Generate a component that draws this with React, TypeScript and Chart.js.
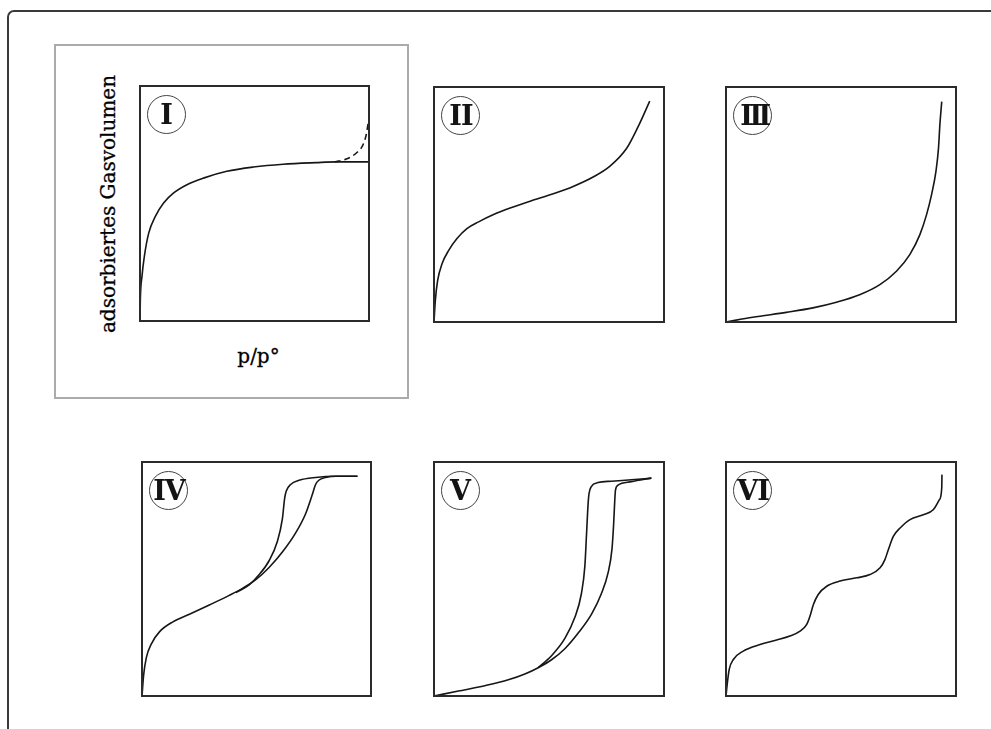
import React, { useEffect, useRef } from "react";
import { Chart, registerables } from "chart.js";

Chart.register(...registerables);

type Pt = [number, number];

// ---- Data (normalised p/p° on x, adsorbed volume on y) ----
const typeI: Pt[] = [
  [0, 0], [0.0015, 0.091], [0.0087, 0.19], [0.019, 0.275], [0.038, 0.374],
  [0.067, 0.445], [0.103, 0.502], [0.147, 0.545], [0.205, 0.58], [0.277, 0.608],
  [0.379, 0.637], [0.495, 0.655], [0.625, 0.667], [0.77, 0.674], [0.857, 0.677], [1.0, 0.677],
];
const typeIDashed: Pt[] = [
  [0.85, 0.677], [0.901, 0.689], [0.945, 0.715], [0.974, 0.75], [0.988, 0.793], [0.996, 0.84],
];
const typeII: Pt[] = [
  [0, 0], [0.0058, 0.092], [0.0159, 0.177], [0.035, 0.248], [0.064, 0.305],
  [0.1, 0.355], [0.143, 0.397], [0.194, 0.426], [0.259, 0.457], [0.331, 0.485],
  [0.418, 0.514], [0.519, 0.546], [0.605, 0.577], [0.692, 0.617], [0.764, 0.662],
  [0.837, 0.738], [0.887, 0.83], [0.938, 0.94],
];
const typeIII: Pt[] = [
  [0, 0], [0.116, 0.02], [0.262, 0.041], [0.378, 0.06], [0.48, 0.084],
  [0.581, 0.116], [0.669, 0.159], [0.741, 0.216], [0.799, 0.287], [0.843, 0.372],
  [0.872, 0.457], [0.894, 0.543], [0.913, 0.642], [0.924, 0.741], [0.93, 0.841], [0.938, 0.938],
];
const typeIVAds: Pt[] = [
  [0, 0], [0.0072, 0.09], [0.019, 0.164], [0.041, 0.223], [0.077, 0.275],
  [0.135, 0.317], [0.207, 0.349], [0.294, 0.389], [0.381, 0.43], [0.439, 0.46],
  [0.497, 0.497], [0.555, 0.549], [0.613, 0.615], [0.671, 0.697], [0.714, 0.778],
  [0.743, 0.859], [0.758, 0.904], [0.772, 0.922], [0.801, 0.934], [0.846, 0.939], [0.941, 0.939],
];
const typeIVDes: Pt[] = [
  [0.41, 0.442], [0.468, 0.475], [0.512, 0.519], [0.555, 0.578], [0.591, 0.66],
  [0.613, 0.757], [0.623, 0.846], [0.63, 0.876], [0.649, 0.904], [0.686, 0.922],
  [0.758, 0.934], [0.846, 0.939], [0.941, 0.939],
];
const typeVAds: Pt[] = [
  [0, 0], [0.106, 0.021], [0.221, 0.044], [0.323, 0.069], [0.395, 0.094], [0.453, 0.121],
  [0.511, 0.155], [0.569, 0.202], [0.627, 0.269], [0.685, 0.35], [0.728, 0.438],
  [0.757, 0.527], [0.774, 0.63], [0.781, 0.734], [0.786, 0.837], [0.789, 0.88],
  [0.8, 0.901], [0.858, 0.916], [0.945, 0.931],
];
const typeVDes: Pt[] = [
  [0.453, 0.121], [0.511, 0.172], [0.569, 0.246], [0.612, 0.335], [0.641, 0.438],
  [0.656, 0.556], [0.663, 0.688], [0.67, 0.821], [0.674, 0.865], [0.684, 0.895],
  [0.713, 0.912], [0.771, 0.918], [0.858, 0.924], [0.945, 0.931],
];
const typeVI: Pt[] = [
  [0, 0], [0.006, 0.057], [0.014, 0.114], [0.032, 0.156], [0.075, 0.192],
  [0.148, 0.22], [0.22, 0.239], [0.278, 0.256], [0.322, 0.277], [0.351, 0.306],
  [0.365, 0.341], [0.38, 0.391], [0.401, 0.434], [0.438, 0.469], [0.496, 0.491],
  [0.568, 0.505], [0.626, 0.519], [0.67, 0.548], [0.691, 0.583], [0.706, 0.626],
  [0.728, 0.683], [0.757, 0.718], [0.8, 0.754], [0.858, 0.775], [0.901, 0.796],
  [0.928, 0.839], [0.938, 0.889], [0.939, 0.946],
];

const numerals = ["I", "II", "III", "IV", "V", "VI"];
const yAxisTitle = "adsorbiertes Gasvolumen";
const xAxisTitle = "p/p°";

type Series = { points: Pt[]; dash?: number[] };
const panelSeries: Series[][] = [
  [{ points: typeI }, { points: typeIDashed, dash: [6, 4] }],
  [{ points: typeII }],
  [{ points: typeIII }],
  [{ points: typeIVAds }, { points: typeIVDes }],
  [{ points: typeVAds }, { points: typeVDes }],
  [{ points: typeVI }],
];

// layout boxes [left, top, width, height]
const boxes: [number, number, number, number][] = [
  [140, 86, 229, 235],
  [434, 87, 230, 235],
  [726, 87, 230, 235],
  [142, 462, 229, 234],
  [434, 462, 230, 234],
  [726, 462, 230, 234],
];

const PAD = 4;

const frameBox = {
  id: "frameBox",
  afterDatasetsDraw(chart: any) {
    const { ctx, chartArea } = chart;
    ctx.save();
    ctx.strokeStyle = "#2b2b2b";
    ctx.lineWidth = 2;
    ctx.strokeRect(chartArea.left, chartArea.top, chartArea.right - chartArea.left, chartArea.bottom - chartArea.top);
    ctx.restore();
  },
};

function Panel({ index }: { index: number }) {
  const ref = useRef<HTMLCanvasElement>(null);
  const [left, top, width, height] = boxes[index];
  useEffect(() => {
    if (!ref.current) return;
    const chart = new Chart(ref.current, {
      type: "line",
      data: {
        datasets: panelSeries[index].map((s) => ({
          data: s.points.map(([x, y]) => ({ x, y })),
          borderColor: "#161616",
          borderWidth: 1.6,
          borderDash: s.dash ?? [],
          pointRadius: 0,
          fill: false,
          cubicInterpolationMode: "monotone" as const,
          clip: 3,
        })),
      },
      options: {
        responsive: false,
        animation: false,
        devicePixelRatio: 1,
        events: [],
        layout: { padding: PAD },
        plugins: { legend: { display: false }, tooltip: { enabled: false } },
        scales: {
          x: { type: "linear", min: 0, max: 1, display: false },
          y: { type: "linear", min: 0, max: 1, display: false },
        },
      },
      plugins: [frameBox],
    });
    return () => chart.destroy();
  }, [index]);
  const label = numerals[index];
  return (
    <>
      <canvas
        ref={ref}
        width={width + PAD * 2}
        height={height + PAD * 2}
        style={{ position: "absolute", left: left - PAD, top: top - PAD, width: width + PAD * 2, height: height + PAD * 2 }}
      />
      <div
        style={{
          position: "absolute",
          left: left + 7,
          top: top + 9,
          width: 39,
          height: 39,
          boxSizing: "border-box",
          border: "1px solid #444",
          borderRadius: "50%",
          display: "flex",
          alignItems: "center",
          justifyContent: "center",
          fontFamily: "'DejaVu Serif', serif",
          fontWeight: "bold",
          fontSize: 27,
          lineHeight: "37px",
          letterSpacing: label === "III" ? -3.5 : label === "II" ? -1 : label.length > 1 ? -1 : 0,
          paddingLeft: label === "III" ? 3 : label.length > 1 ? 1 : 0,
          color: "#141414",
        }}
      >
        {label}
      </div>
    </>
  );
}

export default function App() {
  return (
    <div style={{ position: "fixed", left: 0, top: 0, width: 991, height: 729, overflow: "hidden", background: "#fff" }}>
      <div
        style={{
          position: "absolute",
          left: 7,
          top: 10,
          width: 1100,
          height: 900,
          border: "2px solid #3a3a3a",
          borderTopLeftRadius: 7,
        }}
      />
      <div
        style={{
          position: "absolute",
          left: 54,
          top: 44,
          width: 355,
          height: 355,
          boxSizing: "border-box",
          border: "2px solid #ababab",
        }}
      />
      <div
        style={{
          position: "absolute",
          left: 108 - 140,
          top: 203.5 - 12,
          width: 280,
          height: 24,
          lineHeight: "24px",
          textAlign: "center",
          fontFamily: "'DejaVu Serif', serif",
          fontSize: 20,
          color: "#000",
          whiteSpace: "nowrap",
          transform: "rotate(-90deg)",
          transformOrigin: "50% 50%",
          WebkitTextStroke: "0.3px #000",
        }}
      >
        {yAxisTitle}
      </div>
      <div
        style={{
          position: "absolute",
          left: 258.5 - 50,
          top: 344,
          width: 100,
          height: 24,
          lineHeight: "24px",
          textAlign: "center",
          fontFamily: "'DejaVu Serif', serif",
          fontSize: 20,
          color: "#000",
          whiteSpace: "nowrap",
          WebkitTextStroke: "0.3px #000",
        }}
      >
        {xAxisTitle}
      </div>
      {boxes.map((_, i) => (
        <Panel key={i} index={i} />
      ))}
    </div>
  );
}
